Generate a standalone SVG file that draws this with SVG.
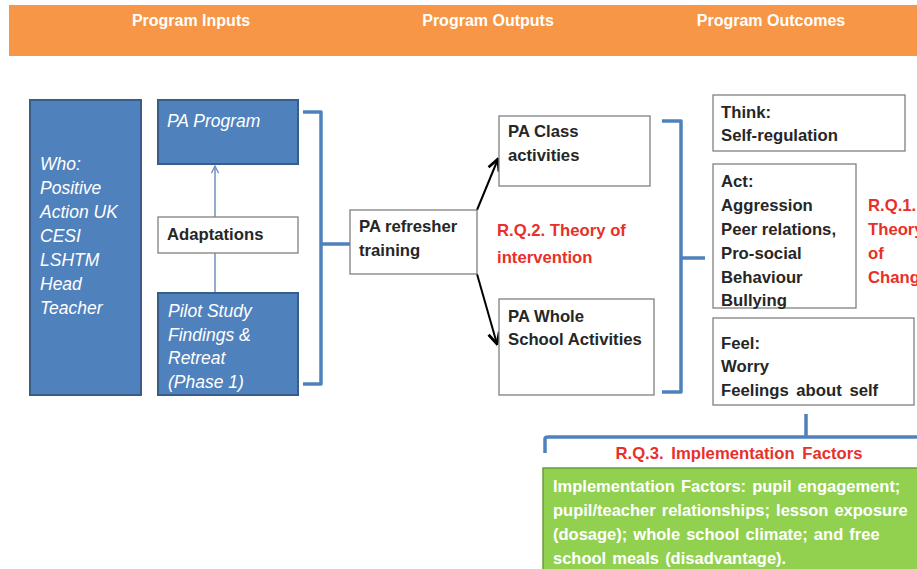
<svg xmlns="http://www.w3.org/2000/svg" width="917" height="569" viewBox="0 0 917 569">
<defs>
<style>
.hdr{font-family:"Liberation Sans",Arial,sans-serif;font-size:16px;font-weight:bold;fill:#fff;text-anchor:middle}
.wi{font-family:"Liberation Sans",Arial,sans-serif;font-size:17.5px;font-style:italic;fill:#fff}
.bk{font-family:"Liberation Sans",Arial,sans-serif;font-size:16.7px;font-weight:bold;fill:#262626}
.rd{font-family:"Liberation Sans",Arial,sans-serif;font-size:16.7px;font-weight:bold;fill:#e8302b}
.gr{font-family:"Liberation Sans",Arial,sans-serif;font-size:16.5px;font-weight:bold;fill:#fff;word-spacing:1.5px}
.blue{fill:#4f81bd;stroke:#385d8a;stroke-width:2}
.wbox{fill:#fff;stroke:#808080;stroke-width:1.3}
.brk{fill:none;stroke:#4f81bd;stroke-width:3.5;stroke-linejoin:round}
.arr{stroke:#000;stroke-width:2;fill:none}
</style>
<marker id="ah" viewBox="0 0 10 10" refX="9" refY="5" markerWidth="7" markerHeight="7" orient="auto-start-reverse">
<path d="M1,1 L9,5 L1,9" fill="none" stroke="#000" stroke-width="2"/>
</marker>
<marker id="ahb" viewBox="0 0 10 10" refX="9" refY="5" markerWidth="6" markerHeight="6" orient="auto">
<path d="M1,1 L9,5 L1,9" fill="none" stroke="#6f8fbf" stroke-width="1.5"/>
</marker>
</defs>
<rect width="917" height="569" fill="#fff"/>
<g id="header">
<rect x="9" y="5" width="920" height="51" fill="#f79646"/>
<text class="hdr" x="191" y="26">Program Inputs</text>
<text class="hdr" x="488" y="26">Program Outputs</text>
<text class="hdr" x="771" y="26">Program Outcomes</text>
</g>
<g id="connectors">
<line x1="215" y1="292" x2="215" y2="166" stroke="#6f8fbf" stroke-width="1.5" marker-end="url(#ahb)"/>
<path class="brk" d="M303,112 H321 V384 H303 M321,244 H350"/>
<line class="arr" x1="477" y1="210" x2="498" y2="159" marker-end="url(#ah)"/>
<line class="arr" x1="477" y1="274" x2="497" y2="344" marker-end="url(#ah)"/>
<path class="brk" d="M662,121 H681 V392 H662 M681,258 H705"/>
<path class="brk" d="M545,453 V439 Q545,437 548,437 H920 M806,437 V414"/>
</g>
<g id="who">
<rect class="blue" x="30" y="100" width="111" height="295"/>
<text class="wi" x="40" y="170">Who:</text>
<text class="wi" x="40" y="194">Positive</text>
<text class="wi" x="40" y="218">Action UK</text>
<text class="wi" x="40" y="242">CESI</text>
<text class="wi" x="40" y="266">LSHTM</text>
<text class="wi" x="40" y="290">Head</text>
<text class="wi" x="40" y="314">Teacher</text>
</g>
<g id="pa-program">
<rect class="blue" x="158" y="100" width="140" height="64"/>
<text class="wi" x="167" y="127">PA Program</text>
</g>
<g id="adaptations">
<rect class="wbox" x="158" y="217" width="140" height="36"/>
<text class="bk" x="167" y="240">Adaptations</text>
</g>
<g id="pilot">
<rect class="blue" x="158" y="293" width="140" height="102"/>
<text class="wi" x="168" y="317">Pilot Study</text>
<text class="wi" x="168" y="341">Findings &amp;</text>
<text class="wi" x="168" y="364">Retreat</text>
<text class="wi" x="168" y="388">(Phase 1)</text>
</g>
<g id="refresher">
<rect class="wbox" x="350" y="210" width="127" height="64"/>
<text class="bk" x="359" y="232">PA refresher</text>
<text class="bk" x="359" y="256">training</text>
</g>
<g id="class-activities">
<rect class="wbox" x="499" y="116" width="151" height="70"/>
<text class="bk" x="508" y="137">PA Class</text>
<text class="bk" x="508" y="161">activities</text>
</g>
<g id="rq2">
<text class="rd" x="497" y="236">R.Q.2. Theory of</text>
<text class="rd" x="497" y="263">intervention</text>
</g>
<g id="whole-school">
<rect class="wbox" x="499" y="299" width="155" height="96"/>
<text class="bk" x="508" y="322">PA Whole</text>
<text class="bk" x="508" y="345">School Activities</text>
</g>
<g id="think">
<rect class="wbox" x="713" y="95" width="192" height="56"/>
<text class="bk" x="721" y="118">Think:</text>
<text class="bk" x="721" y="141">Self-regulation</text>
</g>
<g id="act">
<rect class="wbox" x="713" y="164" width="143" height="144"/>
<text class="bk" x="721" y="187">Act:</text>
<text class="bk" x="721" y="211">Aggression</text>
<text class="bk" x="721" y="235">Peer relations,</text>
<text class="bk" x="721" y="259">Pro-social</text>
<text class="bk" x="721" y="283">Behaviour</text>
<text class="bk" x="721" y="306">Bullying</text>
</g>
<g id="rq1">
<text class="rd" x="868" y="211">R.Q.1.</text>
<text class="rd" x="868" y="235">Theory</text>
<text class="rd" x="868" y="259">of</text>
<text class="rd" x="868" y="283">Change</text>
</g>
<g id="feel">
<rect class="wbox" x="713" y="318" width="201" height="87"/>
<text class="bk" x="721" y="349">Feel:</text>
<text class="bk" x="721" y="372">Worry</text>
<text class="bk" x="721" y="396" word-spacing="3">Feelings about self</text>
</g>
<g id="rq3">
<text class="rd" x="739" y="459" text-anchor="middle" word-spacing="3">R.Q.3. Implementation Factors</text>
</g>
<g id="factors">
<rect x="543" y="468" width="380" height="110" fill="#92d050" stroke="#6a9a3a" stroke-width="1.5"/>
<text class="gr" x="553" y="492">Implementation Factors: pupil engagement;</text>
<text class="gr" x="553" y="516">pupil/teacher relationships; lesson exposure</text>
<text class="gr" x="553" y="540">(dosage); whole school climate; and free</text>
<text class="gr" x="553" y="564">school meals (disadvantage).</text>
</g>
</svg>
